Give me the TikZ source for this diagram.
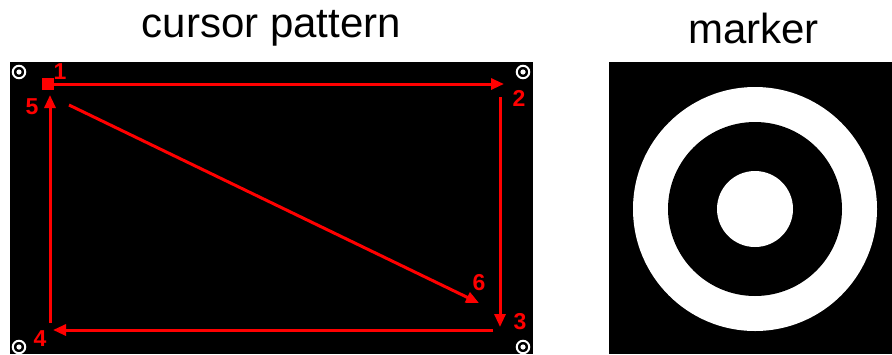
\documentclass[tikz,border=0pt]{standalone}
\usepackage{fontspec}
\setmainfont{Liberation Sans}
\usetikzlibrary{arrows.meta}

\tikzset{
    title/.style = {anchor=base, inner sep=0pt, font=\fontsize{42}{48}\selectfont},
    num/.style = {inner sep=0pt, text=red, font=\fontsize{23}{26}\selectfont\bfseries},
    path arrow/.style = {red, line width=3pt, -{Triangle[length=13pt, width=11pt]}},
    corner mark/.style = {circle, draw=white, line width=2pt, minimum size=12.5pt, inner sep=0pt,
        path picture={\fill[white] (path picture bounding box.center) circle (2.6pt);}}
}

\begin{document}
\begin{tikzpicture}[x=1pt, y=-1pt]
    \useasboundingbox (0, 0) rectangle (892, 354);
    % screens
    \fill[black] (10, 62) rectangle (533, 354);
    \fill[black] (609, 62) rectangle (892, 354);
    \node[title] (cursortitle) at (271.5, 37) {cursor pattern};
    \node[title] (markertitle) at (753.5, 43) {marker};

    % corner marks
    \node[corner mark] (tl) at (19, 72) {};
    \node[corner mark] (tr) at (523, 72) {};
    \node[corner mark] (br) at (523, 347) {};
    \node[corner mark] (bl) at (19, 347) {};

    % cursor path
    \node[fill=red, minimum size=12pt, inner sep=0pt] (start) at (47.5, 84) {};
    \coordinate (p2) at (504, 84);
    \coordinate (p2b) at (500, 97);
    \coordinate (p3) at (500, 327);
    \coordinate (p3b) at (493, 330);
    \coordinate (p4) at (53, 330);
    \coordinate (p4b) at (50, 323);
    \coordinate (p5) at (50, 95);
    \coordinate (p5b) at (69, 105);
    \coordinate (p6) at (479, 303);
    \draw[path arrow] (start.east) -- (p2);
    \draw[path arrow] (p2b) -- (p3);
    \draw[path arrow] (p3b) -- (p4);
    \draw[path arrow] (p4b) -- (p5);
    \draw[path arrow] (p5b) -- (p6);

    \node[num] (n1) at (60, 72) {1};
    \node[num] (n2) at (519, 98) {2};
    \node[num] (n3) at (520, 322) {3};
    \node[num] (n4) at (40, 339) {4};
    \node[num] (n5) at (32, 107) {5};
    \node[num] (n6) at (479, 283) {6};

    % marker rings
    \fill[white] (755, 209) circle (122);
    \fill[black] (755, 209) circle (87);
    \fill[white] (755, 209) circle (38);
\end{tikzpicture}
\end{document}
